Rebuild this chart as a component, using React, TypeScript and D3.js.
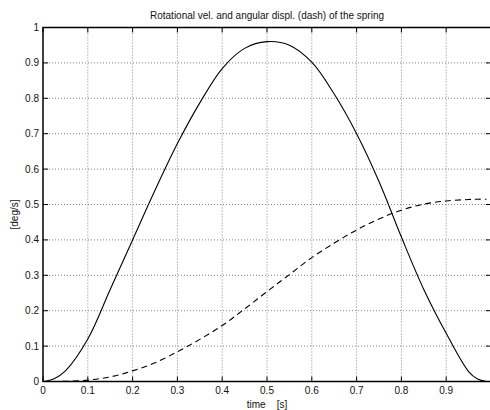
import React from "react";
import * as d3 from "d3";

const TIME = [0, 0.025, 0.05, 0.1, 0.15, 0.2, 0.25, 0.3, 0.35, 0.4, 0.45, 0.5, 0.55, 0.6, 0.65, 0.7, 0.75, 0.8, 0.85, 0.9, 0.95, 0.97, 0.99];
const VELOCITY = [0, 0.008, 0.03, 0.12, 0.26, 0.4, 0.54, 0.672, 0.787, 0.884, 0.941, 0.96, 0.95, 0.902, 0.812, 0.7, 0.565, 0.408, 0.26, 0.136, 0.028, 0.007, 0];
const DISPLACEMENT = [0, 0, 0.0005, 0.004, 0.013, 0.03, 0.053, 0.084, 0.119, 0.158, 0.205, 0.254, 0.302, 0.35, 0.391, 0.428, 0.459, 0.484, 0.501, 0.51, 0.514, 0.515, 0.515];
const X_TICKS = [0, 0.1, 0.2, 0.3, 0.4, 0.5, 0.6, 0.7, 0.8, 0.9];
const Y_TICKS = [0, 0.1, 0.2, 0.3, 0.4, 0.5, 0.6, 0.7, 0.8, 0.9, 1];
const TITLE = "Rotational vel. and angular displ. (dash) of the spring";
const X_LABEL = "time    [s]";
const Y_LABEL = "[deg/s]";

const W = 490;
const H = 410;
const L = 43;
const R = 491;
const T = 27.5;
const B = 381.5;
const FONT = "'Liberation Sans', Arial, Helvetica, sans-serif";

export default function App() {
  const x = d3.scaleLinear().domain([0, 1]).range([L, R]);
  const y = d3.scaleLinear().domain([0, 1]).range([B, T]);
  const line = (vals: number[]) =>
    d3
      .line<number>()
      .x((_, i) => x(TIME[i]))
      .y((d) => y(d))
      .curve(d3.curveCatmullRom.alpha(0.5))(vals) || "";
  const fmt = (v: number) => (v === 0 ? "0" : v === 1 ? "1" : String(+v.toFixed(1)));
  const tk = 5;
  return (
    <svg
      width={W}
      height={H}
      style={{ position: "absolute", left: 0, top: 0, background: "#fff" }}
      fontFamily={FONT}
    >
      <rect x={0} y={0} width={W} height={H} fill="#fff" />
      {X_TICKS.filter((v) => v > 0).map((v) => (
        <line key={"gx" + v} x1={x(v)} x2={x(v)} y1={T} y2={B} stroke="#666" strokeWidth={0.8} strokeDasharray="1,2" />
      ))}
      {Y_TICKS.filter((v) => v > 0 && v < 1).map((v) => (
        <line key={"gy" + v} x1={L} x2={R} y1={y(v)} y2={y(v)} stroke="#666" strokeWidth={0.8} strokeDasharray="1,2" />
      ))}
      <path d={line(VELOCITY)} fill="none" stroke="#000" strokeWidth={1.1} />
      <path d={line(DISPLACEMENT)} fill="none" stroke="#000" strokeWidth={1.1} strokeDasharray="6,4" />
      <rect x={L} y={T} width={R - L} height={B - T} fill="none" stroke="#000" strokeWidth={1.5} />
      {X_TICKS.map((v) => (
        <g key={"tx" + v}>
          <line x1={x(v)} x2={x(v)} y1={B} y2={B - tk} stroke="#000" />
          <line x1={x(v)} x2={x(v)} y1={T} y2={T + tk} stroke="#000" />
          <text x={x(v)} y={393.5} fontSize={10} textAnchor="middle" fill="#111">
            {fmt(v)}
          </text>
        </g>
      ))}
      {Y_TICKS.map((v) => (
        <g key={"ty" + v}>
          <line x1={L} x2={L + tk} y1={y(v)} y2={y(v)} stroke="#000" />
          <line x1={R} x2={R - tk} y1={y(v)} y2={y(v)} stroke="#000" />
          <text x={39} y={y(v) + 3.5} fontSize={10} textAnchor="end" fill="#111">
            {fmt(v)}
          </text>
        </g>
      ))}
      <text x={267} y={19} fontSize={10} textAnchor="middle" fill="#111">
        {TITLE}
      </text>
      <text x={267} y={408} fontSize={10} textAnchor="middle" fill="#111" style={{ whiteSpace: "pre" }}>
        {X_LABEL}
      </text>
      <text
        transform={`translate(18,214.5) rotate(-90)`}
        fontSize={10}
        textAnchor="middle"
        fill="#111"
      >
        {Y_LABEL}
      </text>
    </svg>
  );
}
